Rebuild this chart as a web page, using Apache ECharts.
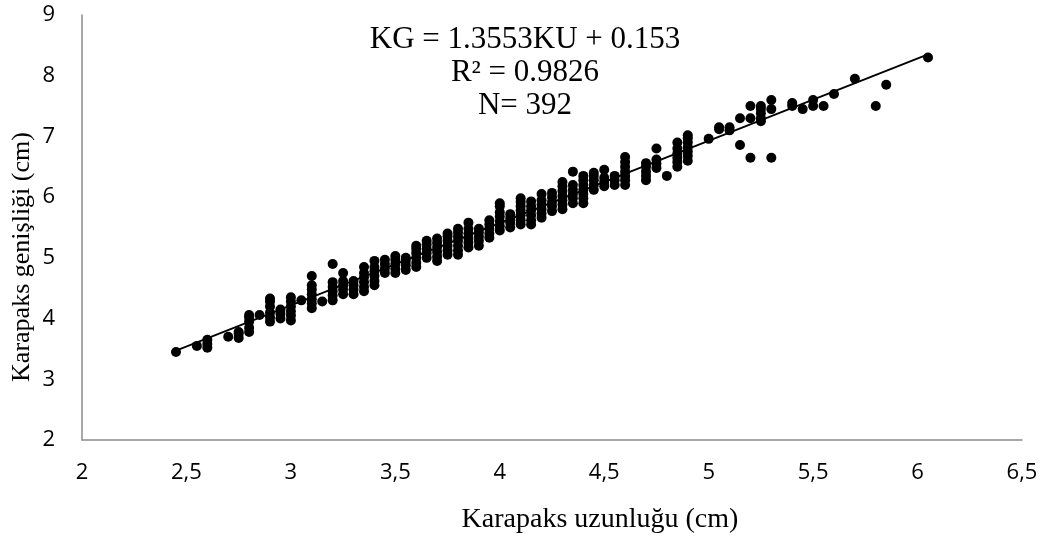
<!DOCTYPE html>
<html><head><meta charset="utf-8">
<script src="https://cdn.jsdelivr.net/npm/echarts@6/dist/echarts.min.js"></script>
<style>html,body{margin:0;padding:0;background:#fff}#c{width:1051px;height:540px}</style>
</head><body><div id="c"></div>
<script>
// Scatter data: [Karapaks uzunluğu, Karapaks genişliği]
const points = [
[2.45,3.45],[2.55,3.55],[2.6,3.52],[2.6,3.58],[2.6,3.65],[2.7,3.7],
[2.75,3.68],[2.75,3.75],[2.75,3.78],
[2.8,3.78],[2.8,3.85],[2.8,3.95],[2.8,4.02],[2.8,4.06],[2.85,4.06],
[2.9,3.95],[2.9,4.02],[2.9,4.1],[2.9,4.2],[2.9,4.28],[2.9,4.33],
[2.95,4.0],[2.95,4.08],[2.95,4.15],
[3.0,3.97],[3.0,4.05],[3.0,4.12],[3.0,4.2],[3.0,4.28],[3.0,4.35],[3.05,4.3],
[3.1,4.17],[3.1,4.25],[3.1,4.32],[3.1,4.4],[3.1,4.48],[3.1,4.55],[3.1,4.7],[3.15,4.28],
[3.2,4.3],[3.2,4.38],[3.2,4.45],[3.2,4.52],[3.2,4.6],[3.2,4.9],
[3.25,4.4],[3.25,4.48],[3.25,4.55],[3.25,4.62],[3.25,4.75],
[3.3,4.4],[3.3,4.48],[3.3,4.55],[3.3,4.62],
[3.35,4.45],[3.35,4.52],[3.35,4.6],[3.35,4.68],[3.35,4.75],[3.35,4.85],
[3.4,4.55],[3.4,4.62],[3.4,4.7],[3.4,4.78],[3.4,4.85],[3.4,4.95],
[3.45,4.75],[3.45,4.82],[3.45,4.9],[3.45,4.97],
[3.5,4.75],[3.5,4.82],[3.5,4.9],[3.5,4.97],[3.5,5.03],
[3.55,4.8],[3.55,4.88],[3.55,4.95],[3.55,5.0],
[3.6,4.85],[3.6,4.92],[3.6,5.0],[3.6,5.08],[3.6,5.15],[3.6,5.2],
[3.65,5.0],[3.65,5.08],[3.65,5.15],[3.65,5.22],[3.65,5.28],
[3.7,4.95],[3.7,5.02],[3.7,5.1],[3.7,5.18],[3.7,5.25],[3.7,5.32],
[3.75,5.05],[3.75,5.12],[3.75,5.2],[3.75,5.28],[3.75,5.35],[3.75,5.4],
[3.8,5.05],[3.8,5.12],[3.8,5.2],[3.8,5.28],[3.8,5.35],[3.8,5.42],[3.8,5.48],
[3.85,5.17],[3.85,5.25],[3.85,5.32],[3.85,5.4],[3.85,5.48],[3.85,5.58],
[3.9,5.2],[3.9,5.28],[3.9,5.35],[3.9,5.42],[3.9,5.48],
[3.95,5.33],[3.95,5.4],[3.95,5.48],[3.95,5.55],[3.95,5.62],
[4.0,5.45],[4.0,5.52],[4.0,5.6],[4.0,5.68],[4.0,5.75],[4.0,5.85],[4.0,5.9],
[4.05,5.5],[4.05,5.58],[4.05,5.65],[4.05,5.72],
[4.1,5.55],[4.1,5.62],[4.1,5.7],[4.1,5.78],[4.1,5.85],[4.1,5.92],[4.1,5.98],
[4.15,5.55],[4.15,5.62],[4.15,5.7],[4.15,5.78],[4.15,5.85],[4.15,5.93],
[4.2,5.66],[4.2,5.73],[4.2,5.8],[4.2,5.88],[4.2,5.95],[4.2,6.05],
[4.25,5.77],[4.25,5.85],[4.25,5.92],[4.25,6.0],[4.25,6.07],
[4.3,5.8],[4.3,5.88],[4.3,5.95],[4.3,6.02],[4.3,6.1],[4.3,6.18],[4.3,6.25],
[4.35,5.9],[4.35,5.98],[4.35,6.05],[4.35,6.12],[4.35,6.2],[4.35,6.42],
[4.4,5.9],[4.4,5.98],[4.4,6.05],[4.4,6.12],[4.4,6.2],[4.4,6.28],[4.4,6.35],
[4.45,6.12],[4.45,6.2],[4.45,6.28],[4.45,6.35],[4.45,6.4],
[4.5,6.18],[4.5,6.25],[4.5,6.32],[4.5,6.45],
[4.55,6.2],[4.55,6.28],[4.55,6.35],
[4.6,6.2],[4.6,6.28],[4.6,6.35],[4.6,6.42],[4.6,6.5],[4.6,6.58],[4.6,6.66],
[4.7,6.28],[4.7,6.35],[4.7,6.42],[4.7,6.5],[4.7,6.56],
[4.75,6.48],[4.75,6.55],[4.75,6.62],[4.75,6.8],[4.8,6.35],
[4.85,6.5],[4.85,6.58],[4.85,6.65],[4.85,6.72],[4.85,6.8],[4.85,6.9],
[4.9,6.6],[4.9,6.68],[4.9,6.75],[4.9,6.82],[4.9,6.9],[4.9,6.97],[4.9,7.02],
[5.0,6.96],[5.05,7.12],[5.05,7.15],[5.1,7.1],[5.1,7.15],
[5.15,6.86],[5.15,7.3],[5.2,6.65],[5.2,7.3],[5.2,7.5],
[5.25,7.25],[5.25,7.3],[5.25,7.38],[5.25,7.45],[5.25,7.5],
[5.3,6.65],[5.3,7.45],[5.3,7.6],[5.4,7.5],[5.4,7.55],[5.45,7.45],
[5.5,7.5],[5.5,7.6],[5.55,7.5],[5.6,7.7],[5.7,7.95],[5.8,7.5],[5.85,7.85],[6.05,8.3]
];
// Regression: KG = slope*KU + intercept
const slope = 1.3553, intercept = 0.153;
const trendX = [2.45, 6.05];
const trendLine = trendX.map(x => [x, slope * x + intercept]);
const annotationLines = ['KG = 1.3553KU + 0.153', 'R² = 0.9826', 'N= 392'];
const xName = 'Karapaks uzunluğu (cm)';
const yName = 'Karapaks genişliği (cm)';

const chart = echarts.init(document.getElementById('c'));
const tickFont = {fontFamily: 'Open Sans', fontSize: 22, color: '#000'};
chart.setOption({
  animation: false,
  grid: {left: 82, top: 15, right: 29, bottom: 100, containLabel: false},
  xAxis: {
    type: 'value', min: 2, max: 6.5, interval: 0.5,
    axisLine: {show: true, onZero: false, lineStyle: {color: '#8c8c8c', width: 1.5}},
    axisTick: {show: false}, splitLine: {show: false},
    axisLabel: Object.assign({margin: 22, formatter: v => String(v).replace('.', ',')}, tickFont)
  },
  yAxis: {
    type: 'value', min: 2, max: 9, interval: 1,
    axisLine: {show: true, onZero: false, lineStyle: {color: '#8c8c8c', width: 1.5}},
    axisTick: {show: false}, splitLine: {show: false},
    axisLabel: Object.assign({margin: 27}, tickFont)
  },
  graphic: [
    {type: 'text', x: 525, y: 23, z: 10,
     style: {text: annotationLines.join('\n'), fill: '#000',
             font: '31px "Liberation Serif"', textAlign: 'center', lineHeight: 33}},
    {type: 'text', x: 600, y: 520,
     style: {text: xName, fill: '#000', font: '28px "Liberation Serif"',
             textAlign: 'center', textVerticalAlign: 'middle'}},
    {type: 'text', x: 22, y: 257, rotation: Math.PI / 2,
     style: {text: yName, fill: '#000', font: '26px "Liberation Serif"',
             textAlign: 'center', textVerticalAlign: 'middle'}}
  ],
  series: [
    {type: 'scatter', data: points, symbol: 'circle', symbolSize: 10,
     itemStyle: {color: '#000', opacity: 1}, z: 3},
    {type: 'line', data: trendLine, symbol: 'none',
     lineStyle: {color: '#000', width: 1.8}, z: 2}
  ]
});
</script></body></html>
